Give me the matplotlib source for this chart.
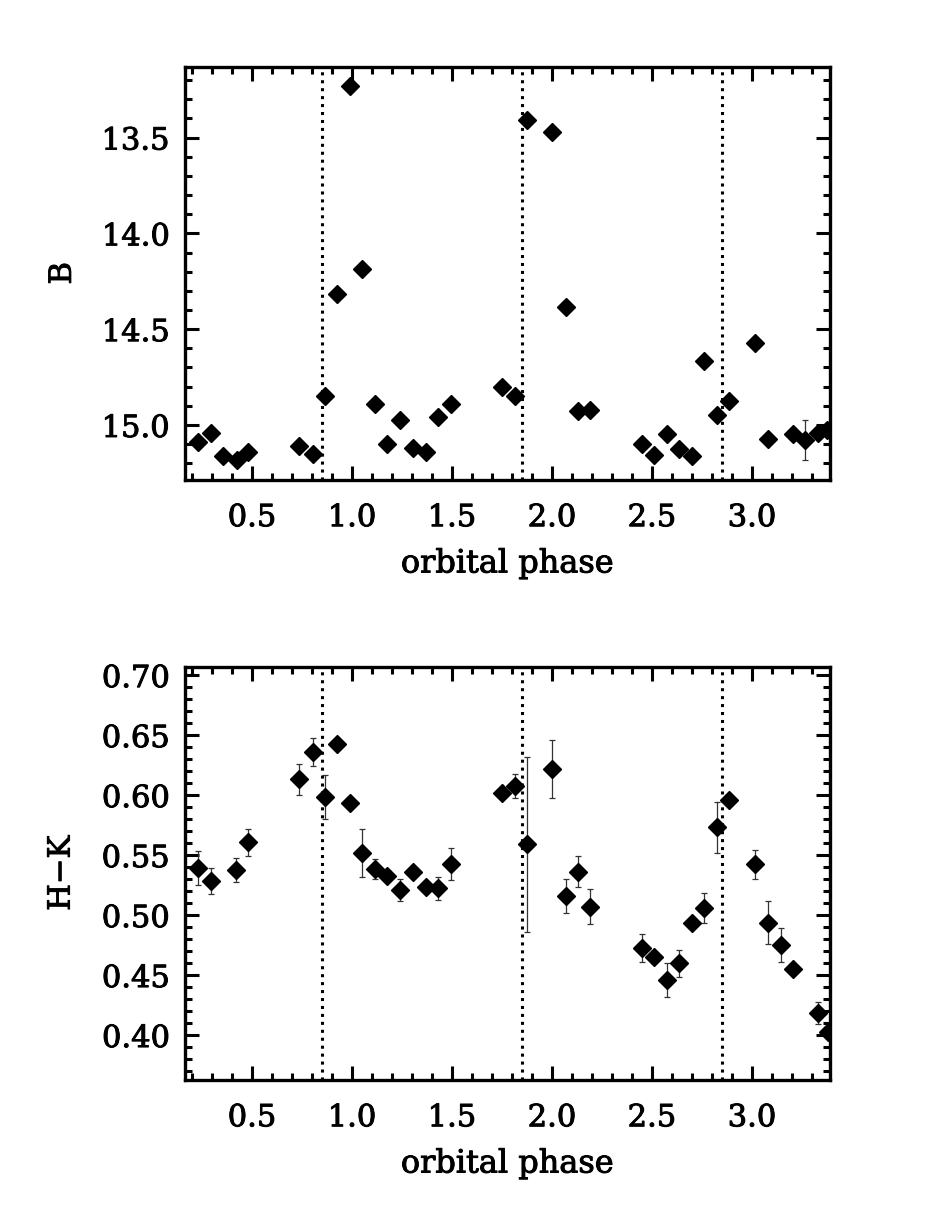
import matplotlib
matplotlib.use("Agg")
from matplotlib import pyplot as plt
from matplotlib import patheffects
from matplotlib.ticker import MultipleLocator

# top panel: B magnitude vs orbital phase
b_phase = [0.231, 0.295, 0.357, 0.423, 0.482, 0.735, 0.803, 0.865, 0.923, 0.990,
           1.050, 1.115, 1.177, 1.240, 1.307, 1.370, 1.432, 1.493, 1.748, 1.815,
           1.877, 2.000, 2.070, 2.132, 2.190, 2.448, 2.510, 2.573, 2.637, 2.698,
           2.762, 2.823, 2.887, 3.015, 3.082, 3.203, 3.265, 3.332, 3.373]
b_mag = [15.09, 15.04, 15.164, 15.184, 15.143, 15.108, 15.15, 14.851, 14.318, 13.233,
         14.187, 14.889, 15.10, 14.976, 15.12, 15.143, 14.958, 14.889, 14.802, 14.847,
         13.41, 13.47, 14.387, 14.929, 14.92, 15.10, 15.155, 15.045, 15.125, 15.164,
         14.665, 14.946, 14.877, 14.573, 15.073, 15.045, 15.08, 15.04, 15.025]
b_err = [0.01, 0.01, 0.01, 0.01, 0.01, 0.01, 0.01, 0.01, 0.01, 0.01,
         0.01, 0.01, 0.01, 0.01, 0.01, 0.01, 0.01, 0.01, 0.01, 0.01,
         0.01, 0.01, 0.01, 0.01, 0.01, 0.01, 0.01, 0.01, 0.01, 0.01,
         0.01, 0.01, 0.01, 0.01, 0.01, 0.01, 0.104, 0.01, 0.01]

# bottom panel: H-K colour vs orbital phase
hk_phase = [0.231, 0.295, 0.420, 0.482, 0.735, 0.803, 0.865, 0.923, 0.990, 1.050,
            1.115, 1.177, 1.240, 1.307, 1.370, 1.432, 1.495, 1.748, 1.815, 1.877,
            2.000, 2.070, 2.132, 2.190, 2.448, 2.510, 2.573, 2.637, 2.700, 2.762,
            2.825, 2.887, 3.015, 3.082, 3.143, 3.207, 3.332, 3.382]
hk = [0.5394, 0.5283, 0.5375, 0.5606, 0.6131, 0.636, 0.5986, 0.6422, 0.593, 0.5514,
      0.5383, 0.5328, 0.5208, 0.5361, 0.5236, 0.5222, 0.5425, 0.6014, 0.6075, 0.5589,
      0.6217, 0.5161, 0.5361, 0.5069, 0.4728, 0.4647, 0.4458, 0.4597, 0.4936, 0.5056,
      0.5731, 0.5958, 0.5422, 0.4936, 0.475, 0.4547, 0.4186, 0.4028]
hk_err = [0.014, 0.011, 0.010, 0.011, 0.013, 0.0114, 0.0185, 0.004, 0.004, 0.020,
          0.0086, 0.004, 0.009, 0.004, 0.004, 0.0097, 0.0136, 0.004, 0.010, 0.0726,
          0.024, 0.014, 0.0128, 0.0147, 0.0118, 0.004, 0.014, 0.0114, 0.004, 0.0125,
          0.021, 0.004, 0.0118, 0.018, 0.014, 0.004, 0.009, 0.004]

eclipse_phase = [0.85, 1.85, 2.85]

plt.rcParams['font.family'] = ['DejaVu Serif']
plt.rcParams['font.size'] = 22

thick = [patheffects.withStroke(linewidth=0.7, foreground='black')]

fig = plt.figure(figsize=(9.42, 12.05), dpi=100)
ax1 = fig.add_axes([0.1964, 0.6017, 0.6847, 0.343])
ax2 = fig.add_axes([0.1964, 0.1037, 0.6847, 0.343])


def style_axis(ax, ymajor, yminor):
    ax.xaxis.set_major_locator(MultipleLocator(0.5))
    ax.xaxis.set_minor_locator(MultipleLocator(0.1))
    ax.yaxis.set_major_locator(MultipleLocator(ymajor))
    ax.yaxis.set_minor_locator(MultipleLocator(yminor))
    ax.tick_params(which='both', direction='in', top=True, right=True, width=2.2)
    ax.tick_params(which='major', length=10)
    ax.tick_params(which='minor', length=5)
    ax.tick_params(axis='x', which='major', pad=16)
    ax.tick_params(axis='y', which='major', pad=11)
    for s in ax.spines.values():
        s.set_linewidth(2.4)
    ax.set_xlabel('orbital phase', labelpad=11, fontsize=23, path_effects=thick)
    for lab in ax.get_xticklabels() + ax.get_yticklabels():
        lab.set_path_effects(thick)


for ax, x, y, e in [(ax1, b_phase, b_mag, b_err), (ax2, hk_phase, hk, hk_err)]:
    ax.errorbar(x, y, yerr=e, fmt='D', color='black', markersize=9, mec='black',
                ecolor='#333333', elinewidth=0.9, capsize=2, capthick=0.9)
    for p in eclipse_phase:
        ax.axvline(p, color='black', linestyle=(0, (1, 1.6)), linewidth=2.2)
    ax.set_xlim(0.165, 3.39)

ax1.set_ylim(15.287, 13.13)
ax1.yaxis.set_major_formatter(plt.FormatStrFormatter('%.1f'))
style_axis(ax1, 0.5, 0.1)
ax1.set_ylabel('B', labelpad=17, path_effects=thick)

ax2.set_ylim(0.3625, 0.707)
ax2.yaxis.set_major_formatter(plt.FormatStrFormatter('%.2f'))
style_axis(ax2, 0.05, 0.01)
ax2.set_ylabel('H\u2212K', labelpad=18, path_effects=thick)

fig.savefig('out.png', dpi=100)
